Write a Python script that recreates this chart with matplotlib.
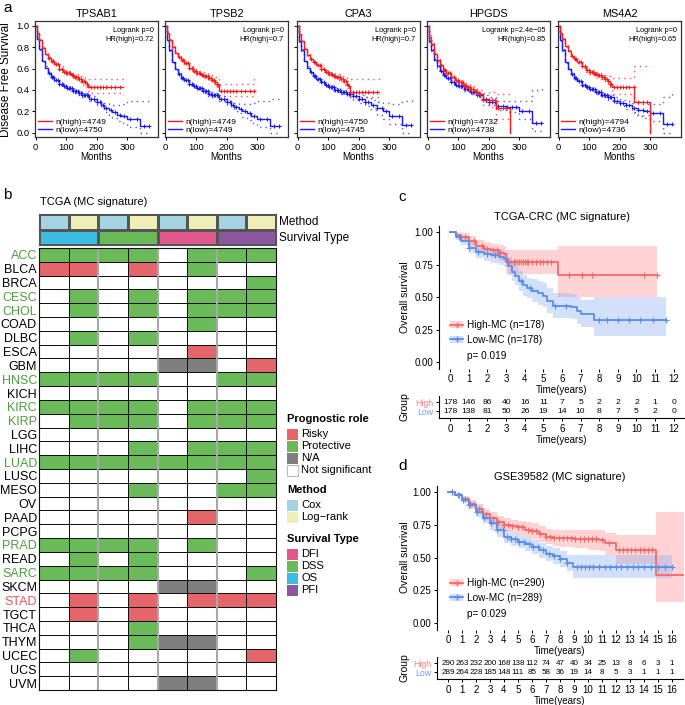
import numpy as np
import matplotlib
matplotlib.use('Agg')
import matplotlib.pyplot as plt
from matplotlib.patches import Rectangle, Patch
from matplotlib.lines import Line2D
from matplotlib.colors import ListedColormap

plt.rcParams['font.family'] = ['Liberation Sans', 'DejaVu Sans']

# ---------------- Panel a data ----------------
genes = ['TPSAB1', 'TPSB2', 'CPA3', 'HPGDS', 'MS4A2']
logrank_p = ['0', '0', '0', '2.4e\u221205', '0']
hr_high = ['0.72', '0.7', '0.7', '0.85', '0.65']
n_high = [4749, 4749, 4750, 4732, 4794]
n_low = [4750, 4749, 4745, 4738, 4736]

high_t = [
    [0, 5, 10, 20, 30, 40, 50, 60, 75, 90, 100, 115, 125, 140, 150, 160, 168, 172, 176, 285],
    [0, 5, 10, 20, 30, 40, 50, 60, 75, 90, 100, 115, 125, 140, 150, 160, 168, 172, 176, 290],
    [0, 5, 10, 20, 30, 40, 50, 60, 75, 90, 100, 115, 125, 140, 150, 160, 165, 170, 265],
    [0, 5, 10, 20, 30, 40, 50, 60, 75, 90, 100, 115, 125, 140, 150, 160, 170, 180, 200, 225, 268],
    [0, 5, 10, 20, 30, 40, 50, 60, 75, 90, 100, 115, 125, 140, 150, 160, 168, 175, 248, 298],
]
high_s = [
    [1, .93, .87, .79, .74, .70, .67, .64, .60, .57, .56, .54, .52, .50, .48, .47, .46, .44, .43, .43],
    [1, .93, .87, .80, .75, .71, .68, .65, .61, .58, .56, .54, .53, .51, .49, .47, .46, .45, .39, .39],
    [1, .92, .86, .78, .73, .69, .66, .63, .60, .57, .55, .53, .52, .50, .48, .46, .44, .38, .38],
    [1, .90, .83, .74, .68, .63, .59, .56, .52, .49, .47, .45, .43, .41, .39, .37, .36, .31, .31, .23, 0],
    [1, .93, .88, .81, .76, .72, .69, .66, .62, .59, .57, .55, .54, .52, .50, .48, .46, .43, .29, 0],
]
high_lo = [
    [1, .92, .86, .78, .73, .69, .66, .63, .59, .55, .54, .51, .49, .47, .45, .43, .41, .39, .37, .35],
    [1, .92, .86, .79, .74, .70, .67, .64, .60, .56, .54, .52, .50, .48, .46, .44, .42, .40, .34, .33],
    [1, .91, .85, .77, .72, .68, .65, .62, .59, .55, .53, .51, .49, .47, .45, .42, .40, .33, .30],
    [1, .89, .82, .73, .67, .62, .58, .55, .51, .48, .45, .43, .41, .38, .36, .34, .32, .26, .24, .13, 0],
    [1, .92, .87, .80, .75, .71, .68, .65, .61, .57, .55, .53, .51, .49, .47, .44, .41, .36, .17, 0],
]
high_hi = [
    [1, .94, .88, .80, .75, .71, .68, .65, .62, .59, .58, .56, .55, .53, .52, .51, .51, .50, .50, .51],
    [1, .94, .88, .81, .76, .72, .69, .66, .63, .60, .58, .57, .56, .54, .53, .52, .51, .51, .46, .52],
    [1, .93, .87, .79, .74, .70, .67, .64, .61, .59, .57, .56, .55, .53, .52, .51, .50, .50, .51],
    [1, .91, .84, .75, .69, .64, .60, .57, .53, .51, .49, .47, .46, .44, .42, .41, .40, .37, .38, .36, .36],
    [1, .94, .89, .82, .77, .73, .70, .67, .63, .61, .59, .57, .56, .55, .54, .53, .52, .51, .62, .62],
]
low_t = [
    [0, 5, 10, 20, 30, 40, 50, 60, 75, 90, 100, 120, 140, 150, 175, 200, 215, 225, 240, 250, 265, 280, 300, 340, 370],
    [0, 5, 10, 20, 30, 40, 50, 60, 75, 90, 100, 120, 140, 150, 175, 200, 215, 225, 240, 250, 265, 280, 300, 340, 375],
    [0, 5, 10, 20, 30, 40, 50, 60, 75, 90, 100, 120, 140, 160, 180, 200, 220, 240, 260, 280, 300, 340, 375],
    [0, 5, 10, 20, 30, 40, 50, 60, 75, 90, 100, 120, 140, 160, 180, 200, 225, 260, 300, 340, 375],
    [0, 5, 10, 20, 30, 40, 50, 60, 75, 90, 100, 120, 140, 160, 180, 200, 220, 240, 260, 280, 300, 340, 372],
]
low_s = [
    [1, .88, .78, .67, .61, .56, .52, .49, .46, .44, .42, .39, .37, .35, .32, .29, .26, .23, .21, .19, .17, .16, .13, .06, .06],
    [1, .87, .77, .66, .60, .55, .51, .49, .46, .44, .42, .39, .36, .35, .32, .29, .26, .24, .22, .20, .18, .16, .13, .06, .06],
    [1, .86, .77, .67, .61, .57, .53, .50, .47, .45, .43, .40, .38, .36, .34, .32, .29, .26, .23, .20, .16, .07, .07],
    [1, .86, .77, .68, .62, .58, .54, .51, .47, .45, .44, .41, .38, .35, .32, .29, .25, .24, .20, .09, .09],
    [1, .87, .77, .66, .60, .55, .51, .48, .45, .43, .41, .38, .35, .33, .30, .28, .26, .23, .21, .20, .18, .08, .08],
]
low_lo = [
    [1, .87, .77, .66, .60, .55, .51, .48, .45, .43, .41, .37, .35, .33, .30, .26, .23, .19, .17, .14, .11, .09, .05, 0, 0],
    [1, .86, .76, .65, .59, .54, .50, .48, .45, .43, .41, .37, .34, .33, .30, .26, .23, .20, .18, .15, .12, .09, .05, 0, 0],
    [1, .85, .76, .66, .60, .56, .52, .49, .46, .44, .42, .38, .36, .33, .31, .28, .25, .21, .17, .13, .08, 0, 0],
    [1, .85, .76, .67, .61, .57, .53, .50, .46, .44, .42, .39, .36, .33, .29, .26, .21, .19, .13, .02, 0],
    [1, .86, .76, .65, .59, .54, .50, .47, .44, .42, .40, .36, .33, .31, .28, .25, .22, .19, .16, .14, .11, 0, 0],
]
low_hi = [
    [1, .89, .79, .68, .62, .57, .53, .50, .47, .45, .43, .41, .39, .37, .34, .32, .30, .28, .27, .26, .26, .27, .30, .30, .31],
    [1, .88, .78, .67, .61, .56, .52, .50, .47, .45, .43, .41, .38, .37, .34, .32, .30, .28, .27, .27, .27, .28, .30, .32, .33],
    [1, .87, .78, .68, .62, .58, .54, .51, .48, .46, .44, .42, .40, .38, .37, .35, .33, .31, .29, .28, .27, .30, .32],
    [1, .87, .78, .69, .63, .59, .55, .52, .48, .46, .45, .43, .40, .38, .35, .33, .30, .30, .30, .40, .45],
    [1, .88, .78, .67, .61, .56, .52, .49, .46, .44, .42, .40, .37, .35, .33, .31, .30, .28, .27, .27, .27, .33, .38],
]
cens_a = [45, 52, 58, 65, 72, 78, 85, 92, 98, 103, 108, 113, 118, 123, 128, 133, 138, 143,
          148, 153, 158, 163, 168, 172, 180, 190, 200, 210, 220, 230, 245, 260, 275, 290,
          310, 330, 355, 370]

# ---------------- Panel b data ----------------
tcga_types = ['ACC', 'BLCA', 'BRCA', 'CESC', 'CHOL', 'COAD', 'DLBC', 'ESCA', 'GBM', 'HNSC',
              'KICH', 'KIRC', 'KIRP', 'LGG', 'LIHC', 'LUAD', 'LUSC', 'MESO', 'OV', 'PAAD',
              'PCPG', 'PRAD', 'READ', 'SARC', 'SKCM', 'STAD', 'TGCT', 'THCA', 'THYM', 'UCEC',
              'UCS', 'UVM']
# R = Risky, P = Protective, N = N/A, 0 = Not significant
prog_role = ['PPPP0PPP', 'RR0R0P00', '0000000P', '0P0P0PPP', '0P0P0PPP', '00000P00',
             '0P0P0000', '00000R00', '0000NN0R', 'PPPP00PP', '00000000', 'PPPP0PPP',
             '0PPP0PPP', '00000000', '000P0PPP', 'PPPPPPPP', '0000000P', '000P00PP',
             '00000000', '00000R00', '00000000', 'PPPP0P00', '0P0P0000', 'PPPP000P',
             '0000NN00', '0R0R0RRR', '0R0R0000', '000P0000', '000PNN00', '0P00000R',
             '00000000', '0000NN00']
label_kind = ['g', 'k', 'k', 'g', 'g', 'k', 'k', 'k', 'k', 'g', 'k', 'g', 'g', 'k', 'k', 'g',
              'k', 'k', 'k', 'k', 'k', 'g', 'k', 'g', 'k', 'r', 'k', 'k', 'k', 'k', 'k', 'k']
method_row = ['Cox', 'Log\u2212rank'] * 4
surv_row = ['OS', 'DSS', 'DFI', 'PFI']

# ---------------- Panel c / d data ----------------
c_high_t = [0, 0.3, 0.6, 1.0, 1.4, 1.8, 2.2, 2.6, 2.9, 3.0, 5.8, 11.1]
c_high_s = [1.0, .98, .96, .93, .89, .87, .86, .84, .83, .77, .67, .67]
c_high_lo = [1.0, .96, .93, .89, .84, .82, .80, .78, .77, .68, .50, .50]
c_high_hi = [1.0, 1.0, .99, .97, .94, .92, .91, .90, .89, .86, .89, .89]
c_low_t = [0, 0.3, 0.6, 1.0, 1.4, 1.8, 2.2, 2.6, 2.9, 3.1, 3.3, 3.5, 3.7, 3.9, 4.1, 4.4, 4.7,
           5.0, 5.2, 5.5, 6.5, 6.8, 7.0, 7.7, 11.6]
c_low_s = [1, .96, .93, .88, .85, .83, .82, .81, .79, .74, .69, .66, .62, .59, .57, .55, .53,
           .51, .47, .43, .42, .39, .37, .32, .32]
c_low_lo = [1, .94, .90, .84, .80, .78, .76, .75, .73, .67, .62, .59, .55, .51, .49, .46, .44,
            .42, .38, .34, .33, .29, .27, .20, .20]
c_low_hi = [1, .98, .96, .92, .89, .88, .87, .87, .85, .81, .76, .74, .70, .67, .65, .64, .62,
            .61, .57, .53, .52, .50, .48, .50, .50]
c_high_cens = [0.8, 1.3, 1.7, 2.0, 2.3, 2.5, 2.7, 3.2, 3.4, 3.5, 3.6, 3.7, 3.8, 3.9, 4.0, 4.1,
               4.2, 4.4, 4.6, 4.8, 5.0, 5.2, 5.4, 6.4, 7.05, 7.6, 10.4, 11.1]
c_low_cens = [0.5, 1.0, 1.5, 2.0, 2.4, 3.8, 4.3, 5.6, 6.2, 8.0, 8.4, 9.0, 9.6, 10.2, 10.9, 11.6]
c_years = list(range(13))
c_risk_high = [178, 146, 86, 40, 16, 11, 7, 5, 2, 2, 2, 1, 0]
c_risk_low = [178, 138, 81, 50, 26, 19, 14, 10, 8, 7, 5, 2, 0]

d_high_t = [0, 0.5, 1, 1.5, 2, 2.5, 3, 3.5, 4, 4.5, 5, 5.5, 6, 6.5, 7, 7.5, 8, 9, 10, 10.8,
            11.2, 12.0, 14.9, 16.9]
d_high_s = [1, .98, .95, .91, .87, .83, .80, .77, .75, .74, .73, .71, .70, .68, .66, .65, .65,
            .64, .64, .63, .61, .56, .37, .37]
d_high_lo = [1, .97, .93, .88, .83, .79, .75, .72, .70, .69, .67, .65, .64, .62, .60, .59, .58,
             .57, .56, .55, .52, .45, .16, .16]
d_high_hi = [1, .99, .97, .94, .91, .87, .85, .82, .80, .79, .78, .77, .76, .74, .72, .71, .71,
             .71, .71, .71, .69, .67, .85, .85]
d_low_t = [0, 0.5, 1, 1.5, 2, 2.5, 3, 3.5, 4, 4.5, 5, 5.5, 6, 6.5, 7, 7.5, 8, 8.5, 8.9, 16.0]
d_low_s = [1, .98, .94, .90, .85, .80, .76, .71, .66, .64, .62, .60, .58, .56, .53, .51, .49,
           .46, .43, .43]
d_low_lo = [1, .97, .92, .87, .81, .76, .71, .66, .61, .59, .57, .55, .53, .50, .47, .45, .43,
            .40, .34, .34]
d_low_hi = [1, .99, .96, .93, .89, .84, .81, .76, .71, .69, .67, .65, .63, .61, .59, .57, .55,
            .52, .52, .52]
d_high_cens = [0.3, 0.8, 1.2, 1.6, 2.2, 2.7, 3.2, 3.6, 4.0, 4.3, 4.6, 5.0, 5.3, 5.7, 6.0, 6.3,
               6.6, 7.0, 7.3, 7.6, 7.9, 8.2, 8.5, 8.8, 9.1, 9.4, 9.7, 10.0, 10.3, 10.6, 11.0,
               11.5, 12.2, 12.5, 12.8, 13.1, 13.4, 13.7, 14.0, 14.3, 14.6, 16.9]
d_low_cens = [0.3, 0.7, 1.1, 1.5, 2.1, 2.6, 3.1, 3.5, 3.9, 4.2, 4.5, 4.8, 5.1, 5.4, 5.8, 6.1,
              6.4, 6.8, 7.2, 7.6, 8.0, 8.5, 9.2, 9.5, 9.8, 10.1, 10.4, 10.8, 11.2, 11.6, 12.0,
              12.4, 12.8, 13.2, 13.6, 14.0, 14.5, 15.0, 15.5, 16.0]
d_years = list(range(17))
d_risk_high = [290, 263, 232, 200, 168, 138, 112, 74, 47, 40, 34, 25, 13, 8, 6, 3, 1]
d_risk_low = [289, 264, 228, 185, 148, 111, 85, 58, 36, 19, 14, 8, 5, 3, 1, 1, 1]

# ---------------- Layout helpers ----------------
W, H = 685, 705
fig = plt.figure(figsize=(W / 100, H / 100), dpi=100)


def rect(l, t, r, b):
    return [l / W, 1 - b / H, (r - l) / W, (b - t) / H]


def ftext(x, y, s, **kw):
    fig.text(x / W, 1 - y / H, s, **kw)


def step_at(t, s, pts):
    t = np.asarray(t, float)
    s = np.asarray(s, float)
    pts = np.asarray([p for p in pts if p <= t[-1]], float)
    idx = np.searchsorted(t, pts, side='right') - 1
    return pts, s[idx]


# ---------------- Panel a ----------------
RED_A, BLUE_A = '#FF1A1A', '#1A1AFF'
a_lefts = [35, 165, 297, 427, 558]
for i, g in enumerate(genes):
    ax = fig.add_axes(rect(a_lefts[i], 21, a_lefts[i] + 123, 137))
    curves = [(low_t[i], low_s[i], low_lo[i], low_hi[i], BLUE_A),
              (high_t[i], high_s[i], high_lo[i], high_hi[i], RED_A)]
    lines = []
    for (t, s, lo, hi, col) in curves:
        ax.step(t, lo, where='post', color=col, lw=1.0, ls=(0, (1, 3)), alpha=0.75)
        ax.step(t, hi, where='post', color=col, lw=1.0, ls=(0, (1, 3)), alpha=0.75)
        ln, = ax.step(t, s, where='post', color=col, lw=1.0)
        cx, cy = step_at(t, s, cens_a)
        ax.plot(cx, cy, '+', color=col, ms=3.4, mew=0.7)
        lines.append(ln)
    ax.set_xlim(-2, 400)
    ax.set_ylim(-0.04, 1.045)
    ax.set_xticks([0, 100, 200, 300])
    ax.set_yticks([0, 0.2, 0.4, 0.6, 0.8, 1.0])
    ax.tick_params(labelsize=6.8, length=2.5, width=0.7, pad=1.5)
    if i > 0:
        ax.set_yticklabels([])
    ax.set_xlabel('Months', fontsize=7, labelpad=0.5)
    ax.set_title(g, fontsize=7.8, pad=3)
    ax.text(0.965, 0.95, f'Logrank p={logrank_p[i]}\nHR(high)={hr_high[i]}',
            ha='right', va='top', fontsize=5.3, transform=ax.transAxes, linespacing=1.4)
    ax.legend([lines[1], lines[0]], [f'n(high)={n_high[i]}', f'n(low)={n_low[i]}'],
              loc='lower left', fontsize=6.1, handlelength=1.6, handletextpad=0.4,
              labelspacing=0.0, borderaxespad=0.2, borderpad=0.2, frameon=False)
    for sp in ax.spines.values():
        sp.set_linewidth(0.9)
        sp.set_color('#333333')

ftext(6, 80, 'Disease Free Survival', rotation=90, ha='center', va='center', fontsize=8.5)
ftext(3, 8, 'a', fontsize=11, va='center')

# ---------------- Panel b ----------------
ftext(3, 195, 'b', fontsize=11, va='center')
ftext(40, 202, 'TCGA (MC signature)', fontsize=8, va='center')

RISKY, PROT, NA_C = '#E4666B', '#6BBA5A', '#7F7F7F'
method_colors = {'Cox': '#A6D3E4', 'Log\u2212rank': '#EEEEB6'}
surv_colors = {'DFI': '#E2588A', 'DSS': '#6BBA5A', 'OS': '#3CBCE0', 'PFI': '#8C579F'}

ax_m = fig.add_axes(rect(39, 214, 276, 229.5))
m_codes = np.array([[0 if m == 'Cox' else 1 for m in method_row]])
ax_m.pcolormesh(np.arange(9), [0, 1], m_codes,
                cmap=ListedColormap([method_colors['Cox'], method_colors['Log\u2212rank']]),
                vmin=-0.5, vmax=1.5, edgecolors='#555555', linewidth=0.8)
ax_m.set_xlim(0, 8); ax_m.set_ylim(1, 0); ax_m.set_xticks([]); ax_m.set_yticks([])
for sp in ax_m.spines.values():
    sp.set_color('#555555'); sp.set_linewidth(0.8)

ax_s = fig.add_axes(rect(39, 229.5, 276, 245))
s_codes = np.array([[0, 1, 2, 3]])
ax_s.pcolormesh([0, 2, 4, 6, 8], [0, 1], s_codes,
                cmap=ListedColormap([surv_colors[k] for k in surv_row]),
                vmin=-0.5, vmax=3.5, edgecolors='#555555', linewidth=0.8)
ax_s.set_xlim(0, 8); ax_s.set_ylim(1, 0); ax_s.set_xticks([]); ax_s.set_yticks([])
for sp in ax_s.spines.values():
    sp.set_color('#555555'); sp.set_linewidth(0.8)
ftext(279, 221.5, 'Method', fontsize=8.5, va='center')
ftext(279, 237.5, 'Survival Type', fontsize=8.5, va='center')

code_map = {'0': 0, 'R': 1, 'P': 2, 'N': 3}
grid = np.array([[code_map[c] for c in row] for row in prog_role])
ax_b = fig.add_axes(rect(39, 248, 276, 690))
ax_b.pcolormesh(np.arange(9), np.arange(len(tcga_types) + 1), grid,
                cmap=ListedColormap(['white', RISKY, PROT, NA_C]), vmin=-0.5, vmax=3.5,
                edgecolors='#111111', linewidth=0.6)
for xv in [2, 4, 6]:
    ax_b.axvline(xv, color='#A8A8A8', lw=1.5)
ax_b.set_xlim(0, 8)
ax_b.set_ylim(len(tcga_types), 0)
ax_b.set_xticks([])
ax_b.set_yticks(np.arange(len(tcga_types)) + 0.5)
ax_b.set_yticklabels(tcga_types, fontsize=9)
ax_b.tick_params(axis='y', length=0, pad=1.5)
lab_cols = {'g': '#4E9F3D', 'k': 'black', 'r': '#E4575B'}
for tl, k in zip(ax_b.get_yticklabels(), label_kind):
    tl.set_color(lab_cols[k])
for sp in ax_b.spines.values():
    sp.set_color('#111111'); sp.set_linewidth(0.8)

# legend for panel b
ax_l = fig.add_axes(rect(280, 405, 400, 600))
ax_l.set_xlim(280, 400); ax_l.set_ylim(600, 405); ax_l.axis('off')
leg_blocks = [
    ('Prognostic role', 419, [('Risky', RISKY), ('Protective', PROT), ('N/A', NA_C),
                              ('Not significant', 'white')]),
    ('Method', 490, [('Cox', method_colors['Cox']), ('Log\u2212rank', method_colors['Log\u2212rank'])]),
    ('Survival Type', 539, [(k, surv_colors[k]) for k in ['DFI', 'DSS', 'OS', 'PFI']]),
]
for title, y0, items in leg_blocks:
    ax_l.text(287, y0, title, fontsize=8, fontweight='bold', va='center')
    for k, (lab, col) in enumerate(items):
        yc = y0 + 15 + 12 * k
        ax_l.add_patch(Rectangle((287, yc - 5.5), 10.5, 11, facecolor=col,
                                 edgecolor='#BBBBBB' if col == 'white' else 'none', lw=0.8))
        ax_l.text(301, yc, lab, fontsize=8, va='center')

# ---------------- Panels c & d ----------------
RED, BLUE = '#F86868', '#5B8DEB'
RED_F, BLUE_F = '#FF8C8C', '#8AAEF0'


def km(ax, t, s, lo, hi, cens, col, fcol):
    ax.fill_between(t, lo, hi, step='post', color=fcol, alpha=0.38, lw=0)
    ax.step(t, s, where='post', color=col, lw=1.3)
    cx, cy = step_at(t, s, cens)
    ax.plot(cx, cy, '+', color=col, ms=4, mew=0.8)


def km_axes(box, xmin, xmax, title, hs, ls_, n_hi, n_lo, pval, leg_anchor, p_pos):
    ax = fig.add_axes(rect(*box))
    km(ax, *hs, RED, RED_F)
    km(ax, *ls_, BLUE, BLUE_F)
    ax.set_xlim(xmin, xmax)
    ax.set_ylim(-0.05, 1.05)
    ax.set_yticks([0, 0.25, 0.5, 0.75, 1.0])
    ax.set_yticklabels(['0.00', '0.25', '0.50', '0.75', '1.00'])
    ax.set_xticks(np.arange(0, int(xmax) + 1))
    ax.tick_params(labelsize=7, length=2.5, width=0.7, pad=1.5)
    for sp in ['top', 'right', 'bottom']:
        ax.spines[sp].set_visible(False)
    ax.spines['left'].set_linewidth(0.8)
    ax.set_xlabel('Time(years)', fontsize=7, labelpad=1)
    ax.set_title(title, fontsize=8, pad=4)
    handles = [(Patch(facecolor=RED_F, alpha=0.4), Line2D([], [], color=RED, marker='+', ms=4, lw=1.3)),
               (Patch(facecolor=BLUE_F, alpha=0.4), Line2D([], [], color=BLUE, marker='+', ms=4, lw=1.3))]
    ax.legend(handles, [f'High-MC (n={n_hi})', f'Low-MC (n={n_lo})'], loc='center left',
              bbox_to_anchor=leg_anchor, fontsize=7.2, frameon=False, borderpad=0,
              borderaxespad=0, handlelength=1.3, handletextpad=0.4, labelspacing=0.45)
    ax.text(p_pos[0], p_pos[1], f'p= {pval}', fontsize=7.2, va='center', transform=ax.transAxes)
    return ax


def risk_axes(box, xmin, xmax, years, rh, rl, ylim, fs):
    ax = fig.add_axes(rect(*box))
    for yr, a, b in zip(years, rh, rl):
        ax.text(yr, 1, str(a), ha='center', va='center', fontsize=fs)
        ax.text(yr, 0, str(b), ha='center', va='center', fontsize=fs)
    ax.set_xlim(xmin, xmax)
    ax.set_ylim(*ylim)
    ax.set_xticks(years)
    ax.set_yticks([1, 0])
    ax.set_yticklabels(['High', 'Low'])
    ax.tick_params(axis='x', labelsize=7, length=2.5, width=0.7, pad=1.5)
    ax.tick_params(axis='y', labelsize=6.3, length=2.5, width=0.7, pad=1.5)
    ax.get_yticklabels()[0].set_color('#FF7F7F')
    ax.get_yticklabels()[1].set_color('#6E9CF2')
    for sp in ['top', 'right']:
        ax.spines[sp].set_visible(False)
    ax.spines['left'].set_linewidth(0.8)
    ax.spines['bottom'].set_linewidth(0.8)
    ax.set_xlabel('Time(years)', fontsize=7, labelpad=1)
    return ax


ftext(398, 197, 'c', fontsize=11, va='center')
km_axes((439, 225.5, 684, 368.5), -0.6, 12.55, 'TCGA-CRC (MC signature)',
        (c_high_t, c_high_s, c_high_lo, c_high_hi, c_high_cens),
        (c_low_t, c_low_s, c_low_lo, c_low_hi, c_low_cens),
        178, 178, '0.019', (0.045, 0.252), (0.114, 0.087))
risk_axes((439, 396, 684, 418), -0.6, 12.55, c_years, c_risk_high, c_risk_low,
          (-0.75, 1.7), 6.1)
ftext(405, 297, 'Overall survival', rotation=90, ha='center', va='center', fontsize=7.5)
ftext(404, 407, 'Group', rotation=90, ha='center', va='center', fontsize=7.5)

ftext(398, 466, 'd', fontsize=11, va='center')
km_axes((437, 485.5, 683, 629.5), -0.79, 16.8, 'GSE39582 (MC signature)',
        (d_high_t, d_high_s, d_high_lo, d_high_hi, d_high_cens),
        (d_low_t, d_low_s, d_low_lo, d_low_hi, d_low_cens),
        290, 289, '0.029', (0.053, 0.271), (0.122, 0.108))
risk_axes((437, 657, 683, 679), -0.79, 16.8, d_years, d_risk_high, d_risk_low,
          (-0.75, 1.7), 5.8)
ftext(405, 557, 'Overall survival', rotation=90, ha='center', va='center', fontsize=7.5)
ftext(404, 668, 'Group', rotation=90, ha='center', va='center', fontsize=7.5)

fig.savefig('out.png', dpi=100)
